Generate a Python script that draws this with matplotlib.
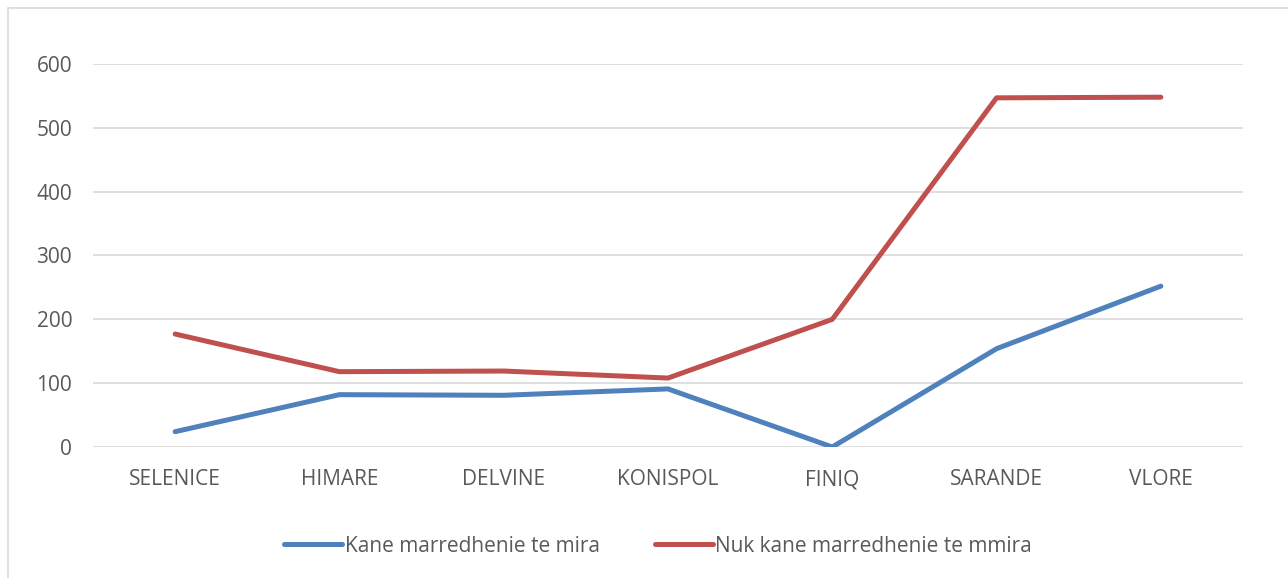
import matplotlib.pyplot as plt
from matplotlib.patches import Rectangle

categories = ['SELENICE', 'HIMARE', 'DELVINE', 'KONISPOL', 'FINIQ', 'SARANDE', 'VLORE']
good_relations = [24, 82, 81, 91, 0, 154, 252]
bad_relations = [177, 118, 119, 108, 200, 547, 548]
series_labels = ['Kane marredhenie te mira', 'Nuk kane marredhenie te mmira']
y_ticks = [0, 100, 200, 300, 400, 500, 600]

plt.rcParams['font.family'] = ['Open Sans', 'DejaVu Sans']

W, H = 1288, 578
fig = plt.figure(figsize=(W / 100, H / 100), dpi=100)
ax = fig.add_axes([93 / W, 1 - 447 / H, (1243 - 93) / W, (447 - 64) / H])

# chart border, cut off at right and bottom like the screenshot
fig.patches.append(Rectangle((8 / W, -0.1), 1.2, 1.1 - 8 / H, transform=fig.transFigure,
                             fill=False, edgecolor='#d9d9d9', linewidth=1.2))

x = range(len(categories))
ax.plot(x, good_relations, color='#4F81BD', linewidth=3.6, solid_capstyle='round',
        solid_joinstyle='round', label=series_labels[0], zorder=3)
ax.plot(x, bad_relations, color='#C0504D', linewidth=3.6, solid_capstyle='round',
        solid_joinstyle='round', label=series_labels[1], zorder=3)

ax.set_xlim(-0.5, len(categories) - 0.5)
ax.set_ylim(0, 600)
ax.set_yticks(y_ticks)
ax.set_xticks(list(x))
ax.set_xticklabels(categories)
ax.yaxis.grid(True, color='#d9d9d9', linewidth=1.2)
ax.set_axisbelow(True)
for s in ax.spines.values():
    s.set_visible(False)
ax.tick_params(axis='both', length=0, labelsize=15, labelcolor='#595959')
ax.tick_params(axis='x', pad=16)
ax.tick_params(axis='y', pad=15)

fig.legend(loc='center', bbox_to_anchor=(658 / W, 1 - 546 / H), ncol=2, frameon=False,
           fontsize=15, labelcolor='#595959', handlelength=2.8, handletextpad=0.1,
           columnspacing=2.65)

fig.savefig('out.png', dpi=100)
